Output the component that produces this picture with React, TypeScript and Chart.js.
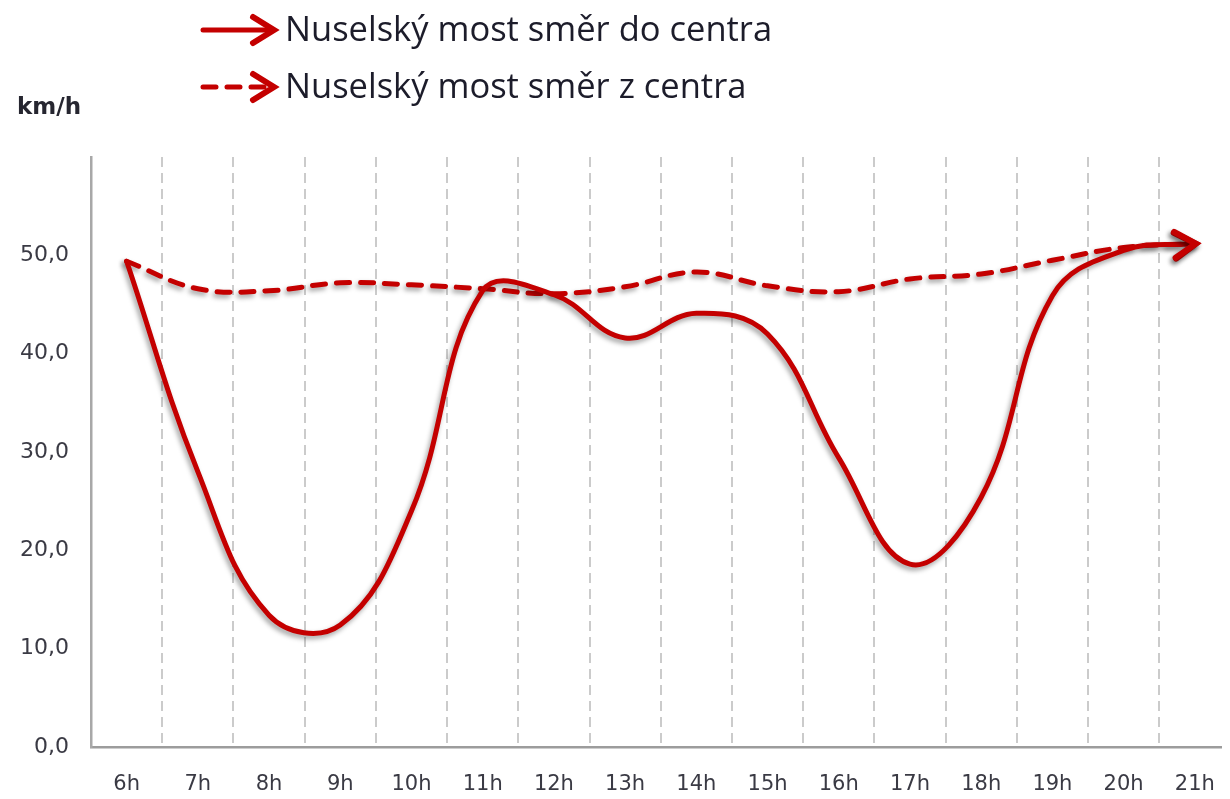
import React, { useEffect, useRef } from 'react';
import { Chart, registerables } from 'chart.js';

Chart.register(...registerables);

// ---- data ----
const hourLabels = ['6h', '7h', '8h', '9h', '10h', '11h', '12h', '13h', '14h', '15h', '16h', '17h', '18h', '19h', '20h', '21h'];
const towardCentre = [49.4, 28.0, 13.4, 12.4, 24.0, 46.4, 46.0, 41.6, 44.1, 42.0, 29.4, 18.6, 25.4, 45.9, 50.5, 51.2];
const fromCentre = [49.4, 46.6, 46.4, 47.2, 47.0, 46.6, 46.1, 46.8, 48.3, 46.9, 46.3, 47.6, 48.1, 49.5, 50.8, 51.2];
const seriesNames = ['Nuselský most směr do centra', 'Nuselský most směr z centra'];
const yTickValues = [0, 10, 20, 30, 40, 50];
const unitLabel = 'km/h';

const RED = '#c40000';

function drawChevron(ctx: CanvasRenderingContext2D, x: number, y: number, ang: number, color: string) {
  const len = 23;
  const half = 13;
  ctx.save();
  ctx.translate(x, y);
  ctx.rotate(ang);
  ctx.setLineDash([]);
  ctx.strokeStyle = color;
  ctx.lineWidth = 6;
  ctx.lineJoin = 'miter';
  ctx.lineCap = 'round';
  ctx.beginPath();
  ctx.moveTo(-len, -half);
  ctx.lineTo(-2, 0);
  ctx.lineTo(-len, half);
  ctx.stroke();
  ctx.restore();
}

const shadowArrowPlugin = {
  id: 'shadowArrow',
  beforeDatasetsDraw(chart: any) {
    const ctx = chart.ctx;
    ctx.save();
    ctx.shadowColor = 'rgba(0,0,0,0.38)';
    ctx.shadowBlur = 5;
    ctx.shadowOffsetX = -2;
    ctx.shadowOffsetY = 3;
  },
  afterDatasetsDraw(chart: any) {
    const ctx = chart.ctx;
    chart.data.datasets.forEach((ds: any, i: number) => {
      const meta = chart.getDatasetMeta(i);
      const pts = meta.data;
      if (pts.length < 2) return;
      const last = pts[pts.length - 1];
      const prev = pts[pts.length - 2];
      let dx = last.x - (last.cp1x ?? prev.x);
      let dy = last.y - (last.cp1y ?? prev.y);
      if (Math.abs(dx) < 0.01 && Math.abs(dy) < 0.01) {
        dx = last.x - prev.x;
        dy = last.y - prev.y;
      }
      drawChevron(ctx, last.x + 3, last.y, Math.atan2(dy, dx), ds.borderColor);
    });
    ctx.restore();
  },
};

const legendPlugin = {
  id: 'arrowLegend',
  afterDraw(chart: any) {
    const ctx = chart.ctx;
    const rows = [22, 79];
    chart.data.datasets.forEach((ds: any, i: number) => {
      const y = rows[i];
      ctx.save();
      ctx.strokeStyle = ds.borderColor;
      ctx.lineWidth = 5;
      ctx.lineCap = 'round';
      ctx.setLineDash(ds.borderDash || []);
      ctx.beginPath();
      ctx.moveTo(195, y);
      ctx.lineTo(262, y);
      ctx.stroke();
      ctx.restore();
      drawChevron(ctx, 268, y, 0, ds.borderColor);
      ctx.save();
      ctx.fillStyle = '#1c1c2a';
      ctx.font = '34.5px "Open Sans"';
      ctx.textAlign = 'left';
      ctx.textBaseline = 'middle';
      ctx.fillText(ds.label, 277, y + 1);
      ctx.restore();
    });
    ctx.save();
    ctx.fillStyle = '#262630';
    ctx.font = 'bold 23px "DejaVu Sans"';
    ctx.textAlign = 'left';
    ctx.textBaseline = 'middle';
    ctx.fillText(unitLabel, 9, 100);
    ctx.restore();
  },
};

export default function App() {
  const ref = useRef<HTMLCanvasElement | null>(null);
  useEffect(() => {
    if (!ref.current) return;
    const chart = new Chart(ref.current, {
      type: 'line',
      data: {
        labels: hourLabels,
        datasets: [
          {
            label: seriesNames[0],
            data: towardCentre,
            borderColor: RED,
            borderWidth: 5,
            tension: 0.4,
            pointRadius: 0,
            fill: false,
            borderCapStyle: 'round',
          },
          {
            label: seriesNames[1],
            data: fromCentre,
            borderColor: RED,
            borderWidth: 5,
            borderDash: [13, 11],
            borderCapStyle: 'round',
            tension: 0.4,
            pointRadius: 0,
            fill: false,
          },
        ],
      },
      options: {
        responsive: false,
        maintainAspectRatio: false,
        animation: false,
        layout: { padding: { top: 149, left: 0, right: 5, bottom: 0 } },
        plugins: { legend: { display: false }, tooltip: { enabled: false } },
        scales: {
          x: {
            type: 'category',
            offset: true,
            grid: {
              display: true,
              offset: true,
              drawTicks: false,
              lineWidth: 2,
              color: (c: any) => (c.index === 0 ? 'rgba(0,0,0,0)' : '#cbcbcb'),
            },
            border: { display: true, color: '#9c9c9c', width: 2.5, dash: [10, 6] },
            ticks: {
              padding: 25,
              color: '#3a3a44',
              font: { family: '"DejaVu Sans"', size: 21 },
              maxRotation: 0,
              autoSkip: false,
            },
            afterFit: (s: any) => {
              s.height = 44;
            },
          },
          y: {
            min: 0,
            max: 60,
            afterBuildTicks: (s: any) => {
              s.ticks = yTickValues.map((v) => ({ value: v }));
            },
            grid: { display: false, drawTicks: false },
            border: { display: true, color: '#a8a8a8', width: 2.5 },
            ticks: {
              padding: 22,
              color: '#3a3a44',
              font: { family: '"DejaVu Sans"', size: 22 },
              callback: (v: any) => Number(v).toFixed(1).replace('.', ','),
            },
            afterFit: (s: any) => {
              s.width = 83;
            },
          },
        },
      },
      plugins: [shadowArrowPlugin, legendPlugin],
    } as any);
    return () => chart.destroy();
  }, []);
  return (
    <div style={{ width: 1222, height: 783, overflow: 'hidden', background: '#fff' }}>
      <canvas ref={ref} width={1232} height={783} style={{ display: 'block' }} />
    </div>
  );
}
